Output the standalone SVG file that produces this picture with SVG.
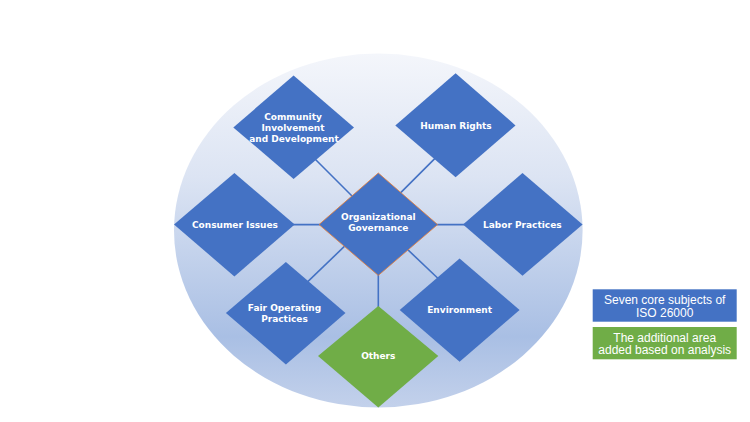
<svg xmlns="http://www.w3.org/2000/svg" width="750" height="422" viewBox="0 0 750 422">
<defs>
<linearGradient id="bg" x1="0" y1="0" x2="0" y2="1">
<stop offset="0" stop-color="#f4f6fb"/>
<stop offset="0.35" stop-color="#dce4f3"/>
<stop offset="0.8" stop-color="#a9bfe4"/>
<stop offset="1" stop-color="#c3d1eb"/>
</linearGradient>
<style>
.d{fill:#4472c4}
.g{fill:#70ad47}
.t{font-family:"DejaVu Sans",Verdana,sans-serif;font-weight:bold;font-size:9px;fill:#fff;text-anchor:middle}
.l{font-family:"Liberation Sans",Arial,sans-serif;font-size:12px;fill:#fff;text-anchor:middle}
.c{stroke:#4472c4;stroke-width:1.6;fill:none}
</style>
</defs>
<rect width="750" height="422" fill="#fff"/>
<ellipse cx="378.3" cy="230.5" rx="204.3" ry="177" fill="url(#bg)"/>
<g id="connectors">
<line class="c" x1="305" y1="149" x2="362" y2="206"/>
<line class="c" x1="445" y1="148.4" x2="392" y2="201.4"/>
<line class="c" x1="270" y1="224.6" x2="340" y2="224.6"/>
<line class="c" x1="420" y1="224.6" x2="490" y2="224.6"/>
<line class="c" x1="300" y1="289.1" x2="355" y2="236.2"/>
<line class="c" x1="398" y1="240.4" x2="446" y2="286"/>
<line class="c" x1="378.3" y1="260" x2="378.3" y2="320"/>
</g>
<g id="community">
<polygon class="d" points="293.6,75.6 354,127.4 293.6,178.9 233.3,127.4"/>
<text class="t" x="293" y="119.5">Community</text>
<text class="t" x="293" y="130.7">Involvement</text>
<text class="t" x="294" y="141.9">and Development</text>
</g>
<g id="human-rights">
<polygon class="d" points="455.6,73.2 515.5,125.4 455.6,177.2 395.3,125.4"/>
<text class="t" x="456" y="129">Human Rights</text>
</g>
<g id="consumer-issues">
<polygon class="d" points="234.4,173.1 294.7,224.6 234.4,276.4 174,224.6"/>
<text class="t" x="235" y="228.3">Consumer Issues</text>
</g>
<g id="labor-practices">
<polygon class="d" points="522.5,173 582.6,224.6 522.5,275.8 463,224.6"/>
<text class="t" x="522.3" y="227.9">Labor Practices</text>
</g>
<g id="fair-operating-practices">
<polygon class="d" points="285.9,261.9 345.5,313 285.9,364.5 225.9,313"/>
<text class="t" x="284.5" y="311.3">Fair Operating</text>
<text class="t" x="284.5" y="322.3">Practices</text>
</g>
<g id="environment">
<polygon class="d" points="459.6,258.5 519.6,310 459.6,361.8 399.7,310"/>
<text class="t" x="459.6" y="313.3">Environment</text>
</g>
<g id="others">
<polygon class="g" points="378.3,305.9 438.3,356 378.3,407.5 318,356"/>
<text class="t" x="378.3" y="359.3">Others</text>
</g>
<g id="organizational-governance">
<polygon class="d" points="378.3,173 437.6,224.6 378.3,275.4 319,224.6" stroke="#ed7d31" stroke-width="0.8"/>
<text class="t" x="378.3" y="220">Organizational</text>
<text class="t" x="378.3" y="231">Governance</text>
</g>
<g id="legend-core">
<rect x="592.7" y="289.3" width="144" height="32.4" fill="#4472c4"/>
<text class="l" x="664.7" y="304.3">Seven core subjects of</text>
<text class="l" x="664.7" y="316.8">ISO 26000</text>
</g>
<g id="legend-additional">
<rect x="592.7" y="327" width="144" height="32.3" fill="#70ad47"/>
<text class="l" x="664.7" y="341.5">The additional area</text>
<text class="l" x="664.7" y="354">added based on analysis</text>
</g>
</svg>
